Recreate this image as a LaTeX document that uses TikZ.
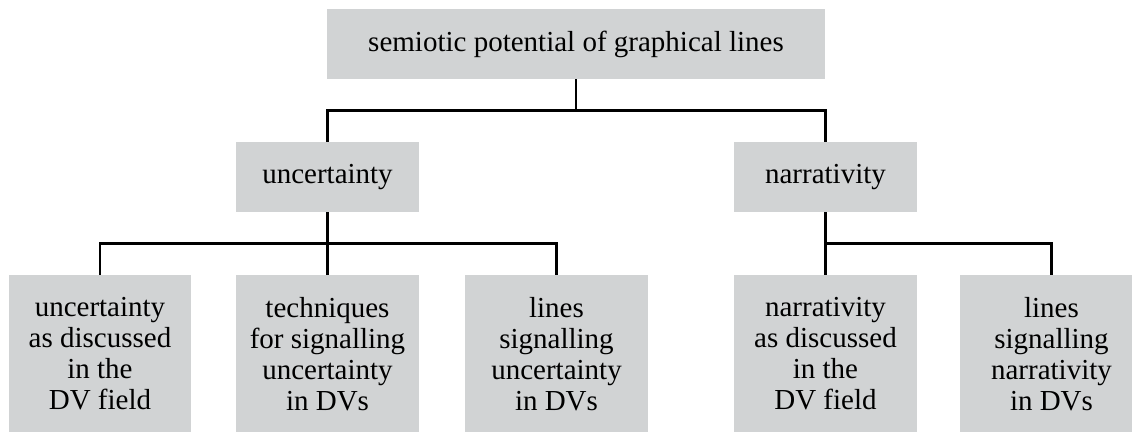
\documentclass[tikz,border=0pt]{standalone}
\usepackage{fontspec}
\setmainfont{Liberation Serif}
\definecolor{boxgray}{RGB}{209,211,212}
\tikzset{
  box/.style={fill=boxgray, inner sep=0pt, align=center,
    font=\fontsize{14.5}{15.5}\selectfont},
  link/.style={line width=1.3pt}
}
\begin{document}
\begin{tikzpicture}[x=0.5pt,y=-0.5pt]
\useasboundingbox (0,0) rectangle (1132,432);
% top and middle row
\node[box, minimum width=249pt, minimum height=35pt] (root) at (576,44) {semiotic potential of graphical lines};
\node[box, minimum width=91.5pt, minimum height=35pt] (unc) at (327.5,177) {uncertainty};
\node[box, minimum width=91.5pt, minimum height=35pt] (nar) at (825.5,177) {narrativity};
% bottom row
\node[box, minimum width=91pt, minimum height=79pt] (uncdv) at (100,354) {uncertainty\\as discussed\\in the\\DV field};
\node[box, minimum width=91.5pt, minimum height=79pt] (unctech) at (327.5,354) {techniques\\for signalling\\uncertainty\\in DVs};
\node[box, minimum width=91.5pt, minimum height=79pt] (unclines) at (556.5,354) {lines\\signalling\\uncertainty\\in DVs};
\node[box, minimum width=91.5pt, minimum height=79pt] (nardv) at (825.5,354) {narrativity\\as discussed\\in the\\DV field};
\node[box, minimum width=91.5pt, minimum height=79pt] (narlines) at (1051.5,354) {lines\\signalling\\narrativity\\in DVs};
% connectors
\draw[link] (root.south) -- ++(0,31) -| (unc.north);
\draw[link] (root.south) -- ++(0,31) -| (nar.north);
\draw[link] (unc.south) -- ++(0,31) -| (uncdv.north);
\draw[link] (unc.south) -- (unctech.north);
\draw[link] (unc.south) -- ++(0,31) -| (unclines.north);
\draw[link] (nar.south) -- ++(0,31) -| (nardv.north);
\draw[link] (nar.south) -- ++(0,31) -| (narlines.north);
\end{tikzpicture}
\end{document}
